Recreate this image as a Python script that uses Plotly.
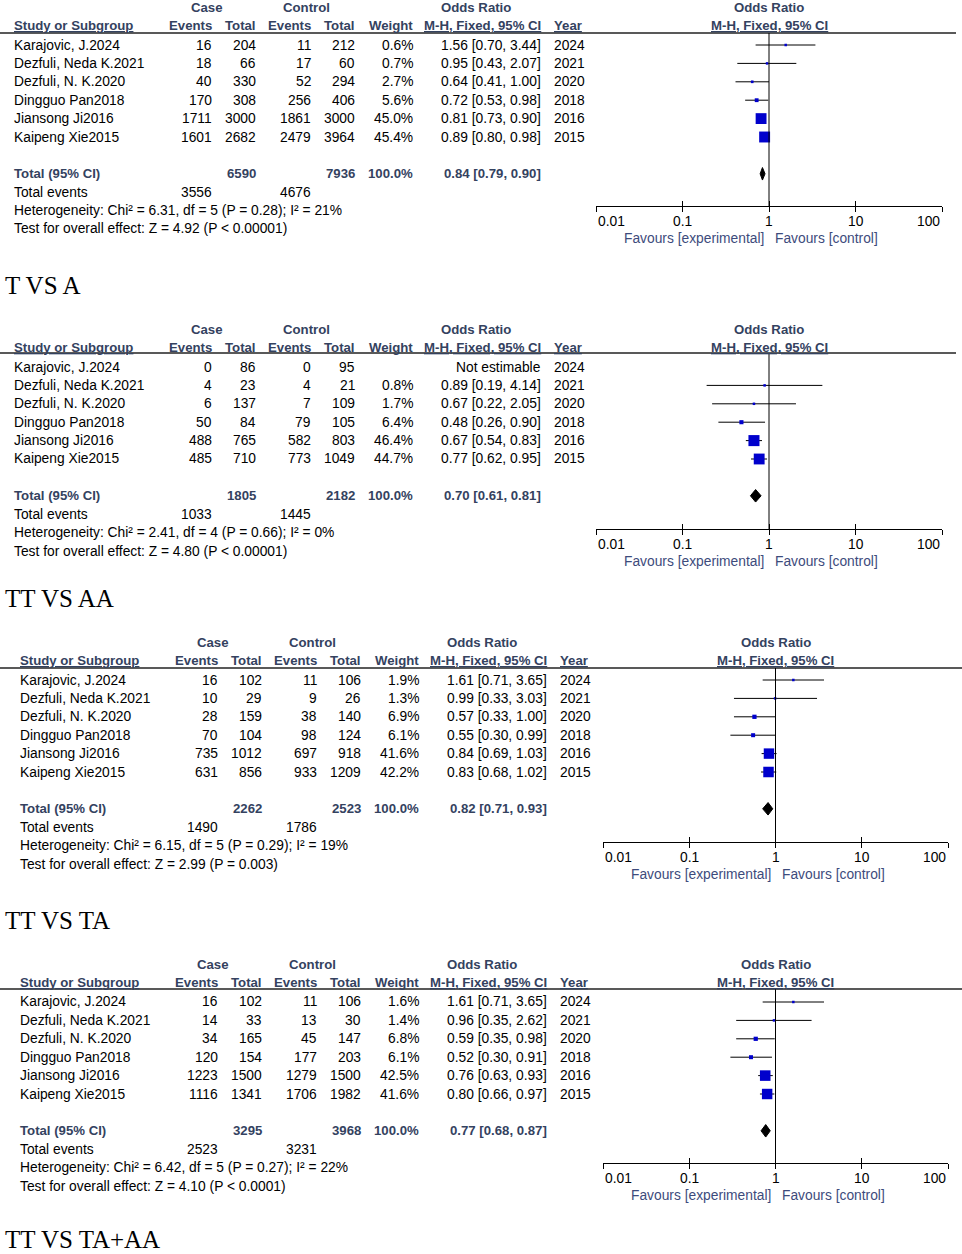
import math
import plotly.graph_objects as go

W, H = 962, 1254

# ---------------- data ----------------
studies = ["Karajovic, J.2024", "Dezfuli, Neda K.2021", "Dezfuli, N. K.2020",
           "Dingguo Pan2018", "Jiansong Ji2016", "Kaipeng Xie2015"]
years = [2024, 2021, 2020, 2018, 2016, 2015]
titles = ["T VS A", "TT VS AA", "TT VS TA", "TT VS TA+AA"]

case_events = [[16, 18, 40, 170, 1711, 1601],
               [0, 4, 6, 50, 488, 485],
               [16, 10, 28, 70, 735, 631],
               [16, 14, 34, 120, 1223, 1116]]
case_total = [[204, 66, 330, 308, 3000, 2682],
              [86, 23, 137, 84, 765, 710],
              [102, 29, 159, 104, 1012, 856],
              [102, 33, 165, 154, 1500, 1341]]
ctrl_events = [[11, 17, 52, 256, 1861, 2479],
               [0, 4, 7, 79, 582, 773],
               [11, 9, 38, 98, 697, 933],
               [11, 13, 45, 177, 1279, 1706]]
ctrl_total = [[212, 60, 294, 406, 3000, 3964],
              [95, 21, 109, 105, 803, 1049],
              [106, 26, 140, 124, 918, 1209],
              [106, 30, 147, 203, 1500, 1982]]
weights = [[0.6, 0.7, 2.7, 5.6, 45.0, 45.4],
           [None, 0.8, 1.7, 6.4, 46.4, 44.7],
           [1.9, 1.3, 6.9, 6.1, 41.6, 42.2],
           [1.6, 1.4, 6.8, 6.1, 42.5, 41.6]]
odds = [[1.56, 0.95, 0.64, 0.72, 0.81, 0.89],
        [None, 0.89, 0.67, 0.48, 0.67, 0.77],
        [1.61, 0.99, 0.57, 0.55, 0.84, 0.83],
        [1.61, 0.96, 0.59, 0.52, 0.76, 0.80]]
ci_lo = [[0.70, 0.43, 0.41, 0.53, 0.73, 0.80],
         [None, 0.19, 0.22, 0.26, 0.54, 0.62],
         [0.71, 0.33, 0.33, 0.30, 0.69, 0.68],
         [0.71, 0.35, 0.35, 0.30, 0.63, 0.66]]
ci_hi = [[3.44, 2.07, 1.00, 0.98, 0.90, 0.98],
         [None, 4.14, 2.05, 0.90, 0.83, 0.95],
         [3.65, 3.03, 1.00, 0.99, 1.03, 1.02],
         [3.65, 2.62, 0.98, 0.91, 0.93, 0.97]]
tot_case_n = [6590, 1805, 2262, 3295]
tot_ctrl_n = [7936, 2182, 2523, 3968]
tot_case_ev = [3556, 1033, 1490, 2523]
tot_ctrl_ev = [4676, 1445, 1786, 3231]
tot_or = [0.84, 0.70, 0.82, 0.77]
tot_lo = [0.79, 0.61, 0.71, 0.68]
tot_hi = [0.90, 0.81, 0.93, 0.87]
het_text = ["Heterogeneity: Chi² = 6.31, df = 5 (P = 0.28); I² = 21%",
            "Heterogeneity: Chi² = 2.41, df = 4 (P = 0.66); I² = 0%",
            "Heterogeneity: Chi² = 6.15, df = 5 (P = 0.29); I² = 19%",
            "Heterogeneity: Chi² = 6.42, df = 5 (P = 0.27); I² = 22%"]
test_text = ["Test for overall effect: Z = 4.92 (P < 0.00001)",
             "Test for overall effect: Z = 4.80 (P < 0.00001)",
             "Test for overall effect: Z = 2.99 (P = 0.003)",
             "Test for overall effect: Z = 4.10 (P < 0.0001)"]
tick_vals = [0.01, 0.1, 1, 10, 100]
tick_text = ["0.01", "0.1", "1", "10", "100"]

# ---------------- layout geometry (pixels) ----------------
row0 = [45, 367, 680, 1002]
step = 18.4
head_line = [33, 353, 668, 989]
axis_y = [206, 529, 842, 1163]
title_y = [285, 598, 920, 1239]
xoff = [0, 0, 6, 6]
forest_l = [596, 596, 603, 603]
forest_r = [942, 942, 948, 948]

FONT = "Arial, 'Liberation Sans', sans-serif"
FS = 13.8
FSB = 13.2
HEAD = "#34425f"
FAV = "#3d4b7c"
BLUE = "#0000cc"

fig = go.Figure()
ann = []
shapes = []


def text(s, x, y, anchor="left", bold=False, color="black", size=None, family=FONT):
    if size is None:
        size = FSB if bold else FS
    if bold:
        s = "<b>" + s + "</b>"
    ann.append(dict(text=s, x=(x - 2 if anchor == "left" else x + 2 if anchor == "right" else x) / W,
                    y=1 - y / H, xref="paper", yref="paper",
                    xanchor=anchor, yanchor="middle", showarrow=False,
                    font=dict(family=family, size=size, color=color)))


layout_axes = {}
for p in range(4):
    xo = xoff[p]
    r0 = row0[p]
    rows_y = [r0 + i * step for i in range(6)]
    # headers
    text("Case", 207 + xo, r0 - 38, "center", True, HEAD)
    text("Control", 306 + xo, r0 - 38, "center", True, HEAD)
    text("Odds Ratio", 476 + xo, r0 - 38, "center", True, HEAD)
    fc = (forest_l[p] + forest_r[p]) / 2
    text("Odds Ratio", fc, r0 - 38, "center", True, HEAD)
    text("<u>Study or Subgroup</u>", 14 + xo, r0 - 20, "left", True, HEAD)
    text("Events", 212 + xo, r0 - 20, "right", True, HEAD)
    text("Total", 256 + xo, r0 - 20, "right", True, HEAD)
    text("Events", 311 + xo, r0 - 20, "right", True, HEAD)
    text("Total", 355 + xo, r0 - 20, "right", True, HEAD)
    text("Weight", 413 + xo, r0 - 20, "right", True, HEAD)
    text("<u>M-H, Fixed, 95% CI</u>", 541 + xo, r0 - 20, "right", True, HEAD)
    text("<u>Year</u>", 554 + xo, r0 - 20, "left", True, HEAD)
    text("<u>M-H, Fixed, 95% CI</u>", fc, r0 - 20, "center", True, HEAD)
    # study rows
    for i in range(6):
        y = rows_y[i]
        text(studies[i], 14 + xo, y)
        text(str(case_events[p][i]), 212 + xo, y, "right")
        text(str(case_total[p][i]), 256 + xo, y, "right")
        text(str(ctrl_events[p][i]), 311 + xo, y, "right")
        text(str(ctrl_total[p][i]), 355 + xo, y, "right")
        if weights[p][i] is not None:
            text(f"{weights[p][i]:.1f}%", 413 + xo, y, "right")
            text(f"{odds[p][i]:.2f} [{ci_lo[p][i]:.2f}, {ci_hi[p][i]:.2f}]", 541 + xo, y, "right")
        else:
            text("Not estimable", 541 + xo, y, "right")
        text(str(years[i]), 554 + xo, y, "left")
    # totals
    yt = r0 + 7 * step
    text("Total (95% CI)", 14 + xo, yt, "left", True, HEAD)
    text(str(tot_case_n[p]), 256 + xo, yt, "right", True, HEAD)
    text(str(tot_ctrl_n[p]), 355 + xo, yt, "right", True, HEAD)
    text("100.0%", 413 + xo, yt, "right", True, HEAD)
    text(f"{tot_or[p]:.2f} [{tot_lo[p]:.2f}, {tot_hi[p]:.2f}]", 541 + xo, yt, "right", True, HEAD)
    ye = r0 + 8 * step
    text("Total events", 14 + xo, ye)
    text(str(tot_case_ev[p]), 212 + xo, ye, "right")
    text(str(tot_ctrl_ev[p]), 311 + xo, ye, "right")
    text(het_text[p], 14 + xo, r0 + 9 * step)
    text(test_text[p], 14 + xo, r0 + 10 * step)
    # title
    text(titles[p], 5, title_y[p], "left", False, "black", 25,
         "'Times New Roman', 'Liberation Serif', serif")
    # header rule
    shapes.append(dict(type="line", xref="paper", yref="paper",
                       x0=0, x1=(956 + xo) / W, y0=1 - head_line[p] / H, y1=1 - head_line[p] / H,
                       line=dict(color="#222", width=1.5)))

    # ---- forest axes ----
    n = p + 1
    xa = "x" if n == 1 else f"x{n}"
    ya = "y" if n == 1 else f"y{n}"
    xo_id = f"x{n + 4}"
    dom_x = [forest_l[p] / W, forest_r[p] / W]
    dom_y = [1 - axis_y[p] / H, 1 - head_line[p] / H]
    yr = [(axis_y[p] - r0) / step, (head_line[p] - r0) / step]
    layout_axes[f"xaxis{'' if n == 1 else n}"] = dict(
        type="log", range=[-2, 2], domain=dom_x, anchor=ya,
        showgrid=False, zeroline=False, showline=True, linecolor="black", linewidth=1,
        tickvals=tick_vals, ticks="outside", ticklen=5, tickcolor="black",
        showticklabels=False, fixedrange=True)
    layout_axes[f"xaxis{n + 4}"] = dict(
        type="log", range=[-2, 2], overlaying=xa, anchor=ya,
        showgrid=False, zeroline=False, showline=False,
        tickvals=tick_vals, ticks="inside", ticklen=5, tickcolor="black",
        showticklabels=False, fixedrange=True)
    layout_axes[f"yaxis{'' if n == 1 else n}"] = dict(
        domain=dom_y, range=yr, visible=False, fixedrange=True)

    # dummy trace so the overlay axis is drawn
    fig.add_trace(go.Scatter(x=[1], y=[0], xaxis=xo_id, yaxis=ya, mode="markers",
                             marker=dict(opacity=0), hoverinfo="skip", showlegend=False))

    # vertical line of no effect
    shapes.append(dict(type="line", xref=xa, yref=f"{ya} domain", x0=1, x1=1, y0=0, y1=1,
                       line=dict(color="black", width=1)))

    # tick labels (annotation x on a log axis is given in log10 units)
    for v, t in zip(tick_vals, tick_text):
        anc = "left" if v == tick_vals[0] else ("right" if v == tick_vals[-1] else "center")
        ann.append(dict(text=t, x=math.log10(v), xref=xa, y=1 - (axis_y[p] + 15) / H, yref="paper",
                        xanchor=anc, yanchor="middle", showarrow=False,
                        font=dict(family=FONT, size=FS, color="black")))
    ann.append(dict(text="Favours [experimental]", x=0, xref=xa, xshift=-3,
                    y=1 - (axis_y[p] + 32) / H, yref="paper", xanchor="right", yanchor="middle",
                    showarrow=False, font=dict(family=FONT, size=FS, color=FAV)))
    ann.append(dict(text="Favours [control]", x=0, xref=xa, xshift=4,
                    y=1 - (axis_y[p] + 32) / H, yref="paper", xanchor="left", yanchor="middle",
                    showarrow=False, font=dict(family=FONT, size=FS, color=FAV)))

    # study estimates
    xs, ys, sz, ep, em = [], [], [], [], []
    for i in range(6):
        if odds[p][i] is None:
            continue
        xs.append(odds[p][i])
        ys.append(i)
        sz.append(max(2.5, 1.62 * weights[p][i] ** 0.5))
        ep.append(ci_hi[p][i] - odds[p][i])
        em.append(odds[p][i] - ci_lo[p][i])
    fig.add_trace(go.Scatter(
        x=xs, y=ys, xaxis=xa, yaxis=ya, mode="markers",
        marker=dict(symbol="square", size=sz, color=BLUE, opacity=1, line=dict(width=0)),
        error_x=dict(type="data", symmetric=False, array=ep, arrayminus=em,
                     color="black", thickness=1, width=0),
        hoverinfo="skip", showlegend=False))
    # pooled diamond
    h = 0.34
    fig.add_trace(go.Scatter(
        x=[tot_lo[p], tot_or[p], tot_hi[p], tot_or[p], tot_lo[p]],
        y=[7, 7 - h, 7, 7 + h, 7], xaxis=xa, yaxis=ya, mode="lines",
        fill="toself", fillcolor="black", line=dict(color="black", width=1),
        hoverinfo="skip", showlegend=False))

fig.update_layout(
    width=W, height=H, margin=dict(l=0, r=0, t=0, b=0),
    paper_bgcolor="white", plot_bgcolor="white",
    annotations=ann, shapes=shapes, showlegend=False,
    **layout_axes)

fig.write_html("out.html", config={"displayModeBar": False},
               post_script="document.body.style.margin='0px';document.body.style.overflow='hidden';")
